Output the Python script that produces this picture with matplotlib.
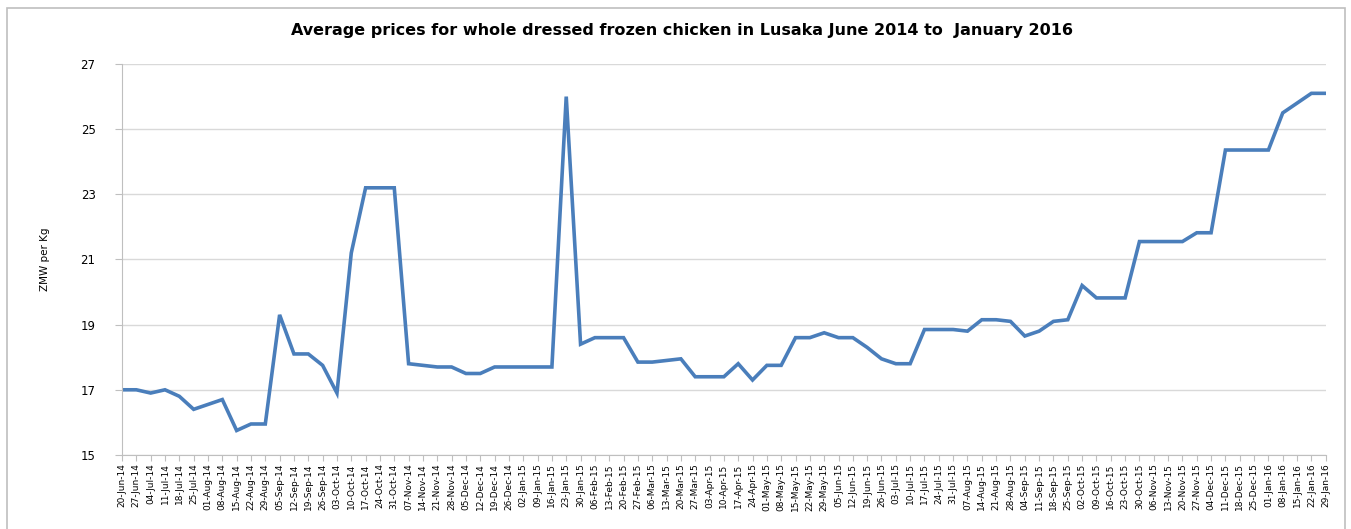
import pandas as pd
import matplotlib
matplotlib.use("Agg")
import matplotlib.pyplot as plt
from matplotlib.patches import Rectangle

# weekly price readings, ZMW per kg
prices = [
    17.0, 17.0, 16.9, 17.0, 16.8, 16.4, 16.55, 16.7, 15.75, 15.95,
    15.95, 19.3, 18.1, 18.1, 17.75, 16.9, 21.2, 23.2, 23.2, 23.2,
    17.8, 17.75, 17.7, 17.7, 17.5, 17.5, 17.7, 17.7, 17.7, 17.7,
    17.7, 26.0, 18.4, 18.6, 18.6, 18.6, 17.85, 17.85, 17.9, 17.95,
    17.4, 17.4, 17.4, 17.8, 17.3, 17.75, 17.75, 18.6, 18.6, 18.75,
    18.6, 18.6, 18.3, 17.95, 17.8, 17.8, 18.85, 18.85, 18.85, 18.8,
    19.15, 19.15, 19.1, 18.65, 18.8, 19.1, 19.15, 20.2, 19.82, 19.82,
    19.82, 21.55, 21.55, 21.55, 21.55, 21.82, 21.82, 24.36, 24.36, 24.36,
    24.36, 25.5, 25.8, 26.1, 26.1,
]

# one label per Friday, 20-Jun-14 .. 29-Jan-16
dates = pd.date_range("2014-06-20", periods=len(prices), freq="W-FRI")
date_labels = [d.strftime("%d-%b-%y") for d in dates]

y_ticks = [15, 17, 19, 21, 23, 25, 27]

title = "Average prices for whole dressed frozen chicken in Lusaka June 2014 to  January 2016"

fig = plt.figure(figsize=(13.51, 5.29), dpi=100)
ax = fig.add_axes([0.0903, 0.140, 0.891, 0.739])

x = list(range(len(prices)))
ax.plot(x, prices, color="#4A7EBB", linewidth=2.6, solid_joinstyle="miter")

ax.set_xlim(0, len(prices) - 1)
ax.set_ylim(15, 27)
ax.set_yticks(y_ticks)
ax.set_xticks(x)
ax.set_xticklabels(date_labels, rotation=90, fontsize=6.5)
ax.tick_params(axis="y", labelsize=8.5, length=5, color="#BFBFBF", pad=14)
ax.tick_params(axis="x", length=4, color="#BFBFBF", pad=2)

ax.grid(axis="y", color="#D9D9D9", linewidth=1)
ax.set_axisbelow(True)
for side in ["top", "right"]:
    ax.spines[side].set_visible(False)
ax.spines["left"].set_color("#BFBFBF")
ax.spines["bottom"].set_color("#BFBFBF")

ax.set_ylabel("ZMW per Kg", fontsize=7.5, labelpad=22)
fig.text(0.505, 0.943, title, ha="center", va="center", fontsize=11.5, fontweight="semibold")

# outer chart border
fig.patches.append(Rectangle((7 / 1351, -0.02), 1338 / 1351, 1.005, transform=fig.transFigure,
                             fill=False, edgecolor="#BFBFBF", linewidth=1.2))

fig.savefig("out.png", dpi=100)
